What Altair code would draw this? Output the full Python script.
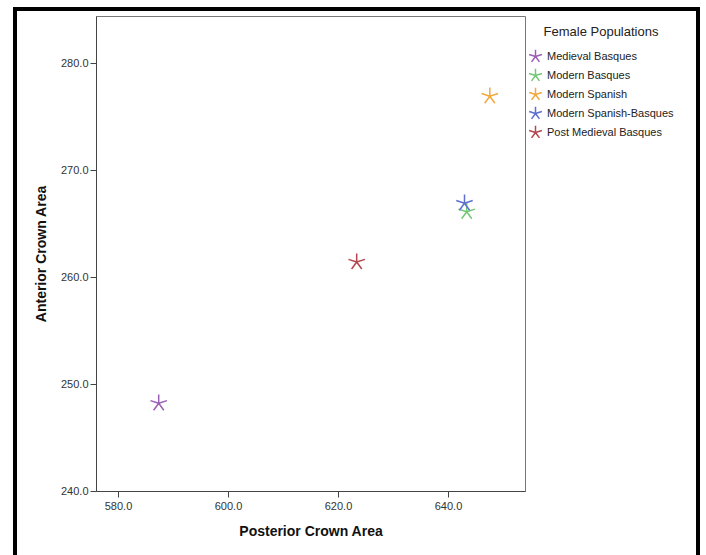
import altair as alt
import pandas as pd

groups = ["Medieval Basques", "Modern Basques", "Modern Spanish",
          "Modern Spanish-Basques", "Post Medieval Basques"]
posterior = [587.4, 643.4, 647.6, 643.0, 623.4]
anterior = [248.2, 266.1, 276.9, 266.9, 261.4]
colors = ["#9b5fb6", "#72c875", "#f2a93e", "#5d70cf", "#b4464e"]

x_ticks = [580, 600, 620, 640]
y_ticks = [240, 250, 260, 270, 280]

df = pd.DataFrame({"group": groups, "post": posterior, "ant": anterior})

star = ("M0,0L0,-1M0,0L0.951,-0.309M0,0L0.588,0.809"
        "M0,0L-0.588,0.809M0,0L-0.951,-0.309")

W, H = 429, 475

points = alt.Chart(df).mark_point(
    shape=star, filled=False, size=300, strokeWidth=1.5, opacity=1
).encode(
    x=alt.X("post:Q", title="Posterior Crown Area",
            scale=alt.Scale(domain=[576, 654], nice=False, zero=False),
            axis=alt.Axis(values=x_ticks, format=".1f")),
    y=alt.Y("ant:Q", title="Anterior Crown Area",
            scale=alt.Scale(domain=[240, 284.4], nice=False, zero=False),
            axis=alt.Axis(values=y_ticks, format=".1f")),
    color=alt.Color("group:N", title="Female Populations",
                    scale=alt.Scale(domain=groups, range=colors),
                    legend=alt.Legend(
                        orient="none", legendX=432, legendY=10,
                        symbolType=star, symbolSize=180, symbolStrokeWidth=1.5,
                        symbolFillColor="transparent",
                        titleFont="Liberation Sans", titleFontSize=13,
                        titleFontWeight="normal", titleColor="#222",
                        titleAnchor="middle", titlePadding=10,
                        labelFont="Liberation Sans", labelFontSize=11,
                        labelColor="#222", labelOffset=4, rowPadding=0,
                        padding=0)),
)

border_df = pd.DataFrame({"k": [0]})
left = alt.Chart(border_df).mark_rule(color="black", strokeWidth=4, clip=False).encode(
    x=alt.value(-81), y=alt.value(-7), y2=alt.value(560))
top = alt.Chart(border_df).mark_rule(color="black", strokeWidth=4, clip=False).encode(
    x=alt.value(-83), x2=alt.value(604), y=alt.value(-7))
right = alt.Chart(border_df).mark_rule(color="black", strokeWidth=4, clip=False).encode(
    x=alt.value(602), y=alt.value(-7), y2=alt.value(560))

chart = alt.layer(points, left, top, right).properties(
    width=W, height=H,
    autosize=alt.AutoSizeParams(type="none"),
    padding={"left": 96, "top": 16, "right": 181, "bottom": 64},
    background="white",
).configure_view(
    stroke="#777", strokeWidth=1
).configure_axis(
    grid=False, domainColor="#444", tickColor="#444",
    labelFont="Liberation Sans", labelFontSize=11, labelColor="#333",
    titleFont="Liberation Sans", titleFontSize=14, titleFontWeight="bold",
    titleColor="#111", tickSize=6,
).configure_axisX(
    labelPadding=3, titlePadding=13,
).configure_axisY(
    labelPadding=2, titlePadding=12,
)

chart.save("out.html", embed_options={"renderer": "svg", "actions": False})
